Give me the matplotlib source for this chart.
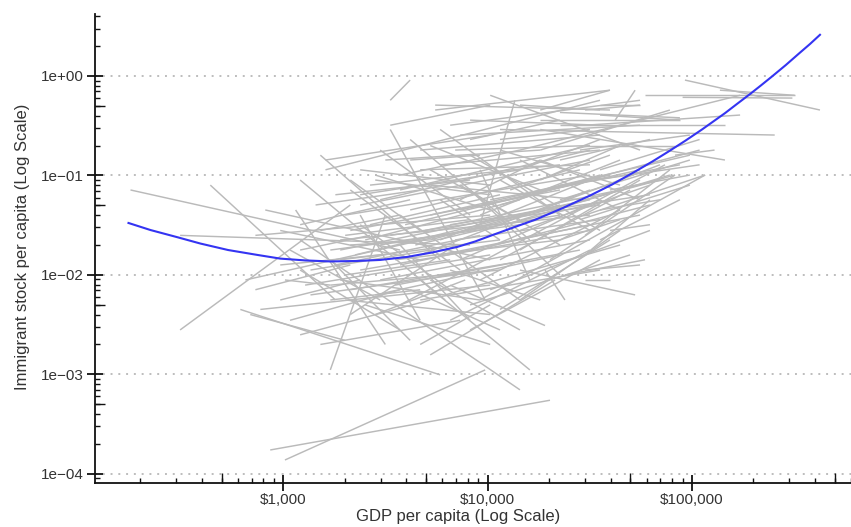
import matplotlib

matplotlib.use("Agg")
import matplotlib.pyplot as plt
from matplotlib.ticker import FixedLocator, FuncFormatter, NullFormatter

plt.rcParams["font.family"] = ["Liberation Sans", "DejaVu Sans"]

INK = "#333333"
SEG = "#bababa"
FIT = "#3434f2"

# country trajectories: (GDP per capita, immigrant stock per capita) start -> end
gdp_start = [179, 440, 313, 313, 617, 690, 1700, 864, 1020, 3340,
             1210, 1520, 1610, 2380, 2820, 3340, 3340, 773, 731, 653,
             731, 817, 1150, 1280, 1360, 2010, 2520, 2130, 2820, 5540,
             6560, 1610, 10300, 5540, 13600, 42100, 11500, 18100, 92400, 58900,
             137000, 14400, 35500, 35500, 9190, 3730, 20200, 23900, 14400, 30000,
             30000, 1210, 4680, 6560, 5240, 4680, 2820, 19100, 82600, 30000,
             30000, 30000, 30000, 18100, 30000, 18100, 30000, 18100, 30000, 1900,
             1900, 2130, 2010, 2380, 2980, 3730, 1900, 2380, 2980, 3730,
             4680, 5860, 4680, 4180, 6940, 11500, 1900, 2380, 3730, 8210,
             5240, 9190, 2380, 1700, 1210, 1080, 967, 967, 1080, 1210,
             1520, 967, 1020, 6560, 8210, 11500, 14400, 9190, 11500, 14400,
             7340, 5240, 14400, 18100, 22600, 11500, 7340, 18100, 14400, 22600,
             28300, 20200, 35500, 39700, 5240, 3730, 2130, 1520, 1210, 5860,
             22600, 35500, 39700, 8210, 14400, 22600, 22600, 90000, 4180, 2130,
             5860, 8210, 14400,
             1700, 1800, 2010, 2250, 2520, 2660, 2980, 3340, 3530, 3950,
             4180, 4430, 4950, 5240, 5860, 6560, 6940, 7340, 8210, 9190,
             10300, 10900, 12200, 12900, 2380, 2660, 3160, 3730, 4680, 5860,
             5240, 2010, 1700, 2130, 2820, 3530, 4680, 6200, 8210, 10300,
             1700, 1360, 1210, 1440, 1800, 2130, 2980, 5240, 11500, 18100,
             7340, 11500, 4180, 6560, 14400, 22600, 28300, 35500, 8210, 7340]
stock_start = [0.0715, 0.080, 0.025, 0.0028, 0.0045, 0.0040, 0.00111, 0.000174, 0.000138, 0.57,
               0.090, 0.16, 0.114, 0.114, 0.090, 0.32, 0.29, 0.0045, 0.0071, 0.0089,
               0.025, 0.045, 0.045, 0.0079, 0.0063, 0.0056, 0.0050, 0.0040, 0.101, 0.51,
               0.32, 0.143, 0.64, 0.455, 0.57, 0.36, 0.29, 0.29, 0.91, 0.64,
               0.72, 0.18, 0.51, 0.405, 0.0056, 0.0050, 0.0142, 0.0100, 0.0112, 0.0112,
               0.0089, 0.0225, 0.0089, 0.0079, 0.00157, 0.0020, 0.0040, 0.0112, 0.16, 0.057,
               0.040, 0.0159, 0.025, 0.18, 0.20, 0.36, 0.455, 0.455, 0.32, 0.0225,
               0.0178, 0.028, 0.040, 0.0505, 0.057, 0.0715, 0.0142, 0.0112, 0.0089, 0.0126,
               0.0159, 0.0225, 0.114, 0.143, 0.18, 0.23, 0.0089, 0.032, 0.040, 0.0715,
               0.114, 0.114, 0.040, 0.0142, 0.0112, 0.0178, 0.028, 0.0056, 0.0035, 0.0025,
               0.0020, 0.0126, 0.0089, 0.0035, 0.0028, 0.0045, 0.0056, 0.0089, 0.0142, 0.0178,
               0.0142, 0.0225, 0.028, 0.045, 0.057, 0.0505, 0.057, 0.090, 0.114, 0.143,
               0.18, 0.0715, 0.114, 0.0715, 0.0089, 0.020, 0.020, 0.028, 0.0178, 0.057,
               0.0225, 0.045, 0.028, 0.23, 0.51, 0.32, 0.43, 0.61, 0.23, 0.0715,
               0.29, 0.16, 0.143,
               0.0178, 0.0126, 0.025, 0.0159, 0.0225, 0.032, 0.020, 0.025, 0.0142, 0.032,
               0.045, 0.020, 0.028, 0.040, 0.0159, 0.032, 0.0225, 0.045, 0.028, 0.040,
               0.057, 0.020, 0.032, 0.0715, 0.064, 0.080, 0.143, 0.101, 0.18, 0.128,
               0.080, 0.0100, 0.0079, 0.0071, 0.0063, 0.0079, 0.0056, 0.0063, 0.0050, 0.0071,
               0.0056, 0.0112, 0.032, 0.0505, 0.064, 0.090, 0.18, 0.20, 0.18, 0.143,
               0.080, 0.090, 0.0071, 0.0112, 0.064, 0.080, 0.036, 0.0225, 0.36, 0.255]
gdp_end = [3730, 1800, 8210, 2130, 5860, 2010, 3160, 20200, 9730, 4180,
           6200, 5860, 35500, 10300, 10300, 10300, 9730, 10300, 2130, 10300,
           10300, 10300, 3160, 10300, 10300, 10300, 10300, 6940, 10300, 39700,
           55700, 10300, 55700, 39700, 9190, 52700, 254000, 145000, 423000, 318000,
           318000, 172000, 55700, 87300, 116000, 73800, 82600, 58900, 52700, 55700,
           39700, 14400, 16100, 19100, 21400, 10300, 7770, 23900, 129000, 82600,
           116000, 62300, 78000, 78000, 82600, 87300, 55700, 39700, 172000, 31700,
           31700, 22600, 31700, 31700, 31700, 31700, 11500, 31700, 31700, 31700,
           31700, 31700, 31700, 9190, 31700, 31700, 9190, 6560, 14400, 22600,
           14400, 16100, 4680, 4180, 3730, 2980, 4680, 2380, 3730, 5240,
           7340, 2980, 1700, 31700, 35500, 39700, 44500, 44500, 49800, 55700,
           35500, 22600, 62300, 69800, 97700, 35500, 18100, 44500, 35500, 62300,
           97700, 109000, 109000, 97700, 14400, 8210, 5240, 3730, 2660, 11500,
           44500, 69800, 62300, 22600, 35500, 145000, 87300, 310000, 16100, 7340,
           22600, 35500, 44500,
           14400, 9190, 8210, 18100, 14400, 11500, 22600, 35500, 22600, 25300,
           28300, 39700, 44500, 39700, 55700, 62300, 35500, 55700, 69800, 44500,
           87300, 62300, 78000, 39700, 14400, 22600, 18100, 14400, 35500, 35500,
           28300, 6560, 11500, 16100, 22600, 28300, 35500, 44500, 49800, 62300,
           4680, 5240, 4180, 4680, 8210, 4680, 8210, 18100, 44500, 55700,
           22600, 31700, 11500, 18100, 97700, 109000, 97700, 87300, 35500, 55700]
stock_end = [0.0178, 0.0056, 0.020, 0.0505, 0.00099, 0.0022, 0.040, 0.00055, 0.00111, 0.91,
             0.0056, 0.0142, 0.57, 0.080, 0.064, 0.51, 0.0056, 0.0079, 0.0126, 0.032,
             0.040, 0.0142, 0.0020, 0.0159, 0.0112, 0.0040, 0.0020, 0.020, 0.045, 0.455,
             0.57, 0.255, 0.18, 0.72, 0.032, 0.72, 0.255, 0.143, 0.455, 0.64,
             0.64, 0.64, 0.51, 0.36, 0.101, 0.128, 0.101, 0.0142, 0.0063, 0.0126,
             0.0089, 0.0007, 0.00111, 0.0031, 0.0089, 0.0050, 0.0089, 0.0056, 0.18, 0.101,
             0.101, 0.057, 0.114, 0.455, 0.20, 0.36, 0.51, 0.72, 0.405, 0.040,
             0.057, 0.0715, 0.101, 0.143, 0.18, 0.20, 0.0225, 0.028, 0.0225, 0.032,
             0.0715, 0.090, 0.128, 0.16, 0.20, 0.29, 0.0056, 0.0071, 0.0056, 0.0100,
             0.036, 0.0089, 0.0035, 0.0022, 0.0028, 0.0056, 0.0142, 0.0089, 0.0071, 0.0056,
             0.0035, 0.0159, 0.0079, 0.0178, 0.0142, 0.0225, 0.028, 0.045, 0.0715, 0.090,
             0.057, 0.0505, 0.080, 0.128, 0.143, 0.101, 0.143, 0.20, 0.23, 0.23,
             0.255, 0.18, 0.23, 0.101, 0.0028, 0.0035, 0.0225, 0.040, 0.025, 0.0225,
             0.036, 0.057, 0.032, 0.36, 0.455, 0.32, 0.38, 0.60, 0.0225, 0.0112,
             0.040, 0.028, 0.045,
             0.032, 0.025, 0.036, 0.045, 0.057, 0.064, 0.040, 0.0505, 0.0225, 0.080,
             0.114, 0.057, 0.0715, 0.101, 0.040, 0.064, 0.036, 0.114, 0.090, 0.143,
             0.128, 0.0505, 0.101, 0.16, 0.114, 0.128, 0.18, 0.18, 0.255, 0.18,
             0.057, 0.0142, 0.0112, 0.0142, 0.0159, 0.0178, 0.0112, 0.020, 0.0159, 0.028,
             0.0071, 0.0178, 0.057, 0.0715, 0.090, 0.028, 0.040, 0.0715, 0.080, 0.057,
             0.020, 0.028, 0.0028, 0.0056, 0.16, 0.128, 0.080, 0.057, 0.32, 0.32]

# smoothed fit
fit_gdp = [175, 224, 307, 393, 538, 747, 967, 1280, 1700, 2300,
           2980, 4040, 5360, 7100, 8690, 10300, 13200, 17100, 23100, 31700,
           40600, 52600, 63700, 76300, 92400, 112000, 145000, 166000, 192000, 217000,
           246000, 288000, 337000, 378000, 423000]
fit_stock = [0.0333, 0.0283, 0.0238, 0.0207, 0.0178, 0.0159, 0.0146, 0.0140, 0.01367, 0.01382,
             0.01415, 0.01517, 0.01683, 0.01912, 0.0217, 0.0247, 0.0297, 0.0359, 0.0466, 0.0628,
             0.0810, 0.1092, 0.1373, 0.1727, 0.2222, 0.290, 0.4228, 0.5233, 0.6566, 0.8008,
             0.9862, 1.290, 1.711, 2.097, 2.595]

x_major = [1e3, 1e4, 1e5]
y_major = [1e-4, 1e-3, 1e-2, 1e-1, 1e0]
x_fives = [500, 5000, 50000, 500000]
y_fives = [5e-4, 5e-3, 5e-2, 5e-1]

fig = plt.figure(figsize=(8.51, 5.27), dpi=100)
ax = fig.add_axes([95 / 851, 44 / 527, 756 / 851, 469 / 527])
ax.set_xscale("log")
ax.set_yscale("log")

for x0, y0, x1, y1 in zip(gdp_start, stock_start, gdp_end, stock_end):
    ax.plot([x0, x1], [y0, y1], color=SEG, lw=1.05, solid_capstyle="butt", zorder=2)
ax.plot(fit_gdp, fit_stock, color=FIT, lw=1.5, zorder=3)

ax.set_xlim(120, 6.0e5)
ax.set_ylim(8.1e-5, 4.2)

for s in ("top", "right"):
    ax.spines[s].set_visible(False)
for s in ("left", "bottom"):
    ax.spines[s].set_linewidth(1.3)
    ax.spines[s].set_color("#111111")

ax.xaxis.set_major_locator(FixedLocator(x_major))
ax.yaxis.set_major_locator(FixedLocator(y_major))
ax.xaxis.set_minor_locator(FixedLocator(
    [k * 10 ** d for d in range(2, 6) for k in range(2, 10)]))
ax.yaxis.set_minor_locator(FixedLocator(
    [k * 10.0 ** d for d in range(-5, 1) for k in range(2, 10)]))
ax.xaxis.set_major_formatter(FuncFormatter(lambda v, p: f"${v:,.0f}"))
ax.yaxis.set_major_formatter(
    FuncFormatter(lambda v, p: f"{v:.0e}".replace("-", "\u2212")))
ax.xaxis.set_minor_formatter(NullFormatter())
ax.yaxis.set_minor_formatter(NullFormatter())

ax.tick_params(which="major", direction="inout", length=12, width=1.3,
               color="#111111", labelcolor=INK, labelsize=11)
ax.tick_params(axis="x", which="major", pad=1)
ax.tick_params(axis="y", which="major", pad=2)
ax.tick_params(which="minor", direction="in", length=3.6, width=1.0,
               color="#111111")
# longer minor ticks at the fives
ax.plot(x_fives, [0] * len(x_fives), transform=ax.get_xaxis_transform(),
        ls="none", marker=2, ms=7, mew=1.0, color="#111111", clip_on=False)
ax.plot([0] * len(y_fives), y_fives, transform=ax.get_yaxis_transform(),
        ls="none", marker=1, ms=7, mew=1.0, color="#111111", clip_on=False)

ax.yaxis.grid(True, which="major", color="#bdbdbd", linestyle=(0, (1, 3)),
              linewidth=1.4)
ax.xaxis.grid(False)
ax.set_axisbelow(True)

fig.text(458 / 851, 1 - 516 / 527, "GDP per capita (Log Scale)",
         ha="center", va="center", fontsize=12, color=INK)
fig.text(23 / 851, 1 - 247 / 527, "Immigrant stock per capita (Log Scale)",
         ha="center", va="center", rotation=90, fontsize=12, color=INK)

fig.savefig("out.png", dpi=100, facecolor="white")
